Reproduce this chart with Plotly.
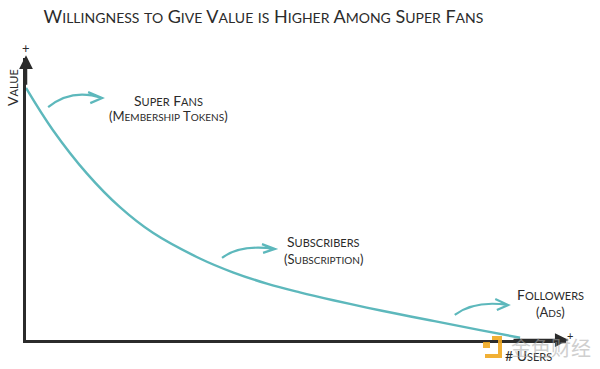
import plotly.graph_objects as go

# ---- data (conceptual demand curve) ----
users = [0, 5.0, 11.3, 17.4, 23.5, 32.2, 38.3, 44.6, 50.7, 56.9, 63.1, 68.7, 74.8, 84.1, 91.5]
value = [89.4, 74.4, 59.0, 47.1, 38.0, 28.9, 24.0, 20.0, 16.9, 14.1, 11.5, 9.3, 7.0, 3.5, 0.8]

title_text = "Willingness to Give Value is Higher Among Super Fans"
segments = ["Super Fans", "Subscribers", "Followers"]
mechanisms = ["(Membership Tokens)", "(Subscription)", "(Ads)"]
x_label = "# Users"
y_label = "Value"

TEAL = "#5db8bc"
INK = "#2b2b2b"
FONT = "Lato"

W, H = 600, 369
PL, PR, PT, PB = 26, 566, 58, 340  # plot-area edges in pixels


def px_x(px):
    return (px - PL) / (PR - PL)


def px_y(py):
    return (PB - py) / (PB - PT)


def smallcaps(text, small):
    out = []
    for ch in text:
        if ch.islower():
            out.append(f"<span style='font-size:{small}px'>{ch.upper()}</span>")
        else:
            out.append(ch)
    return "".join(out)


fig = go.Figure()
fig.add_trace(go.Scatter(
    x=users, y=value, mode="lines",
    line=dict(color=TEAL, width=2.4, shape="spline", smoothing=1.1),
    hoverinfo="skip", showlegend=False,
))

# label positions (data coords) and curved arrow geometry
label_pos = [(26.3, 85.1, 79.4), (55.0, 34.8, 28.7), (97.2, 16.0, 9.9)]
arrows = [
    # start, control, end, head-top, head-bottom
    ((4.1, 82.6), (8.5, 89.4), (14.1, 85.8), (11.5, 87.9), (11.9, 84.0)),
    ((36.3, 29.1), (39.6, 34.0), (46.1, 32.3), (43.7, 34.0), (43.9, 30.9)),
    ((79.4, 8.9), (83.1, 14.2), (89.3, 12.4), (86.9, 14.5), (87.2, 10.6)),
]

annotations = []
shapes = []
C = dict(xanchor="center", yanchor="middle", showarrow=False)
for seg, mech, (lx, ly1, ly2) in zip(segments, mechanisms, label_pos):
    annotations.append(dict(x=lx, y=ly1, xref="x", yref="y", text=smallcaps(seg, 11),
                            font=dict(family=FONT, size=14, color=INK), **C))
    annotations.append(dict(x=lx, y=ly2, xref="x", yref="y", text=smallcaps(mech, 10),
                            font=dict(family=FONT, size=13, color=INK), **C))

for (s, c, e, h1, h2) in arrows:
    path = f"M {s[0]},{s[1]} Q {c[0]},{c[1]} {e[0]},{e[1]} M {h1[0]},{h1[1]} L {e[0]},{e[1]} L {h2[0]},{h2[1]}"
    shapes.append(dict(type="path", path=path, xref="x", yref="y",
                       line=dict(color=TEAL, width=2.2)))

# axis arrowheads
annotations.append(dict(x=0, y=101, ax=0, ay=90, xref="x", yref="y", axref="x", ayref="y",
                        text="", showarrow=True, arrowhead=2, arrowsize=1.1, arrowwidth=2.5,
                        arrowcolor=INK))
annotations.append(dict(x=100.5, y=0, ax=90, ay=0, xref="x", yref="y", axref="x", ayref="y",
                        text="", showarrow=True, arrowhead=2, arrowsize=1.1, arrowwidth=2.5,
                        arrowcolor=INK))
# plus signs
annotations.append(dict(x=px_x(26), y=px_y(48), xref="paper", yref="paper", text="+",
                        font=dict(family=FONT, size=13, color=INK), **C))
annotations.append(dict(x=px_x(570), y=px_y(335), xref="paper", yref="paper", text="+",
                        font=dict(family=FONT, size=11, color=INK), **C))
# axis titles
annotations.append(dict(x=px_x(528), y=px_y(355), xref="paper", yref="paper",
                        text=smallcaps(x_label, 11),
                        font=dict(family=FONT, size=14, color=INK), **C))
annotations.append(dict(x=px_x(12), y=px_y(88), xref="paper", yref="paper",
                        text=smallcaps(y_label, 11), textangle=-90,
                        font=dict(family=FONT, size=14, color=INK), **C))
# watermark
annotations.append(dict(x=px_x(551), y=px_y(347), xref="paper", yref="paper", text="金色财经",
                        opacity=0.55,
                        font=dict(family="Noto Sans CJK SC", size=20, color="#a8a8a8"), **C))
shapes.append(dict(type="rect", xref="paper", yref="paper",
                   x0=px_x(483), x1=px_x(490), y0=px_y(348), y1=px_y(342),
                   fillcolor="#f0a820", line=dict(width=0), opacity=0.9))
shapes.append(dict(type="path", xref="paper", yref="paper",
                   path=f"M {px_x(492)},{px_y(338)} L {px_x(500)},{px_y(338)} L {px_x(500)},{px_y(356)} L {px_x(485)},{px_y(356)}",
                   line=dict(color="#f0a820", width=4), opacity=0.9))

fig.update_layout(
    width=W, height=H,
    margin=dict(l=PL, r=W - PR, t=PT, b=H - PB),
    paper_bgcolor="white", plot_bgcolor="white",
    title=dict(text=smallcaps(title_text, 14), x=263.5 / W, xref="container",
               xanchor="center", y=1 - 17 / H, yref="container", yanchor="middle",
               font=dict(family=FONT, size=18, color=INK)),
    xaxis=dict(range=[0, 100], showgrid=False, zeroline=False, showticklabels=False,
               ticks="", showline=True, linecolor=INK, linewidth=2.5, fixedrange=True),
    yaxis=dict(range=[0, 100], showgrid=False, zeroline=False, showticklabels=False,
               ticks="", showline=True, linecolor=INK, linewidth=2.5, fixedrange=True),
    annotations=annotations,
    shapes=shapes,
    showlegend=False,
)

fig.write_html("out.html", config={"displayModeBar": False},
               post_script="document.body.style.margin='0';")
